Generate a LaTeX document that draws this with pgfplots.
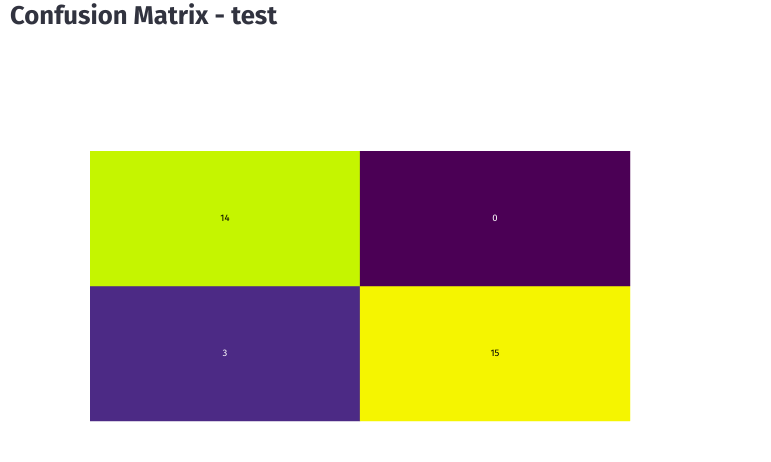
\documentclass[border=0pt]{standalone}
\usepackage{pgfplots}
\pgfplotsset{compat=1.18}
\usepackage{fontspec}
\setmainfont{Fira Sans}
\definecolor{titlec}{HTML}{31333F}
\begin{document}
\begin{tikzpicture}[x=1pt,y=1pt]
\useasboundingbox (0,0) rectangle (771,461);
\node[anchor=base west, inner sep=0pt, text=titlec, font=\fontsize{25.7}{30}\selectfont\bfseries] at (10,436) {Confusion Matrix - test};
\begin{axis}[
  at={(90pt,40pt)}, anchor=south west,
  scale only axis, width=540pt, height=270pt,
  hide axis,
  xmin=-0.5, xmax=1.5, ymin=-0.5, ymax=1.5,
  colormap={cm}{rgb255(0)=(75,0,85) rgb255(3)=(76,42,133) rgb255(14)=(197,245,0) rgb255(15)=(245,245,0)},
  point meta min=0, point meta max=15,
]
\addplot[matrix plot*, mesh/cols=2, point meta=explicit] table[meta=v] {
x y v
0 0 3
1 0 15
0 1 14
1 1 0
};
\addplot[only marks, mark=none, nodes near coords, point meta=explicit symbolic,
  nodes near coords style={anchor=center, font=\fontsize{9.5}{10}\selectfont, text=black}] table[meta=v] {
x y v
0 1 14
1 0 15
};
\addplot[only marks, mark=none, nodes near coords, point meta=explicit symbolic,
  nodes near coords style={anchor=center, font=\fontsize{9.5}{10}\selectfont, text=white}] table[meta=v] {
x y v
1 1 0
0 0 3
};
\end{axis}
\end{tikzpicture}
\end{document}
